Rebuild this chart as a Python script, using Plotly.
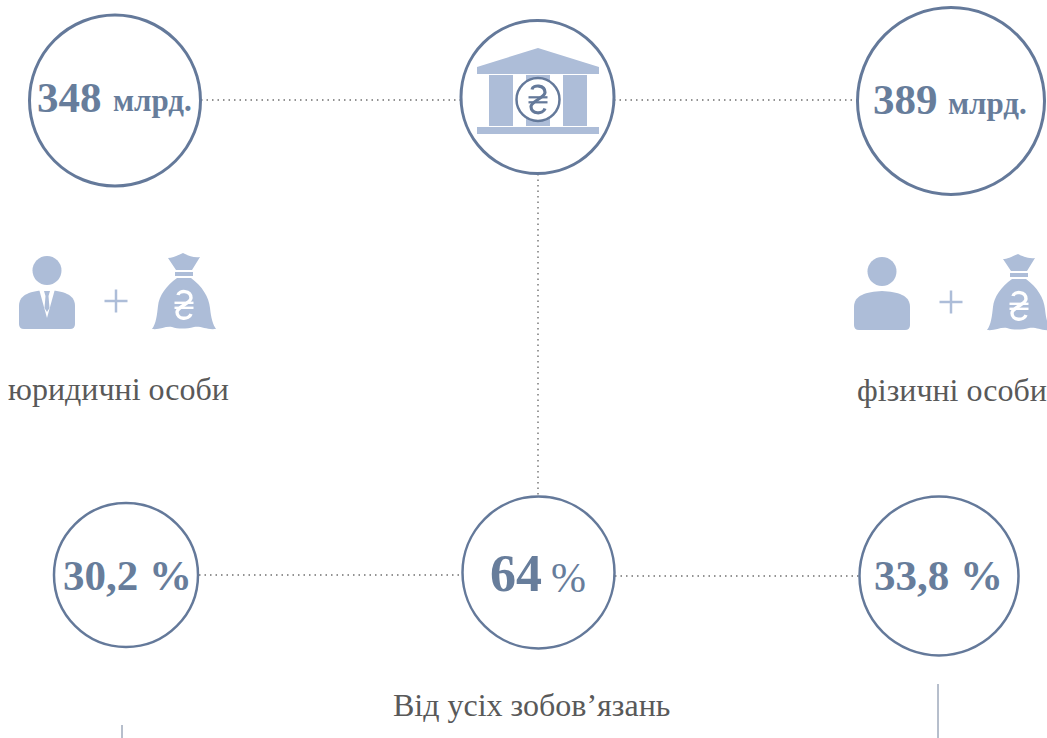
import plotly.graph_objects as go

# Labels
amounts = ["348", "389"]
unit = "млрд."
share_left = "30,2 %"
share_mid = "64"
share_right = "33,8 %"
captions = ["юридичні особи", "фізичні особи", "Від усіх зобов’язань"]

RING = "#64799a"
INK = "#677d9b"
ICON = "#adbdd8"
GREY = "#595959"
SERIF = "Liberation Serif"

shapes = []
annotations = []


def ring(cx, cy, r, w=3):
    shapes.append(dict(type="circle", x0=cx - r, x1=cx + r, y0=cy - r, y1=cy + r,
                       line=dict(color=RING, width=w), fillcolor="rgba(0,0,0,0)"))


def dotted(x0, y0, x1, y1):
    shapes.append(dict(type="line", x0=x0, y0=y0, x1=x1, y1=y1,
                       line=dict(color="#707070", width=1.4, dash="1.5px,4px")))


def rect(x0, y0, x1, y1, color=ICON):
    shapes.append(dict(type="rect", x0=x0, y0=y0, x1=x1, y1=y1,
                       fillcolor=color, line=dict(width=0)))


def fill_path(path, color=ICON):
    shapes.append(dict(type="path", path=path, fillcolor=color, line=dict(width=0)))


def text(x, y, s, size, color=INK, bold=False, anchor="left"):
    annotations.append(dict(x=x, y=y, text=f"<b>{s}</b>" if bold else s, showarrow=False,
                            xanchor=anchor, yanchor="middle",
                            font=dict(family=SERIF, size=size, color=color)))


def hryvnia(cx, cy, color, w):
    # the currency sign: one stroke for the curve plus two bars
    p = (f"M {cx-6},{cy-10} C {cx-5},{cy-15} {cx+7},{cy-15} {cx+7},{cy-7} "
         f"C {cx+7},{cy-2} {cx-7},{cy+2} {cx-7},{cy+7} "
         f"C {cx-7},{cy+15} {cx+5},{cy+15} {cx+7},{cy+9}")
    shapes.append(dict(type="path", path=p, line=dict(color=color, width=w)))
    for dy in (-2.2, 2.8):
        shapes.append(dict(type="line", x0=cx - 9.5, x1=cx + 9.5,
                           y0=cy + dy, y1=cy + dy, line=dict(color=color, width=w * 0.7)))


def bag(dx, dy):
    def x(v):
        return v + dx

    def y(v):
        return v + dy
    fill_path(f"M {x(168)},{y(258)} C {x(172)},{y(258)} {x(176)},{y(256)} {x(183)},{y(253)} "
              f"C {x(187)},{y(255)} {x(193)},{y(258)} {x(200)},{y(257)} "
              f"L {x(192)},{y(270)} L {x(176)},{y(270)} Z")
    rect(x(175), y(272), x(193), y(276))
    fill_path(f"M {x(177)},{y(278)} L {x(191)},{y(278)} "
              f"C {x(202)},{y(286)} {x(209)},{y(297)} {x(210)},{y(308)} "
              f"C {x(211)},{y(318)} {x(213)},{y(325)} {x(216)},{y(329)} "
              f"C {x(206)},{y(330)} {x(202)},{y(326)} {x(194)},{y(327)} "
              f"C {x(186)},{y(329)} {x(178)},{y(329)} {x(172)},{y(327)} "
              f"C {x(165)},{y(326)} {x(160)},{y(330)} {x(152)},{y(329)} "
              f"C {x(156)},{y(324)} {x(157)},{y(315)} {x(158)},{y(306)} "
              f"C {x(159)},{y(296)} {x(166)},{y(286)} {x(177)},{y(278)} Z")
    hryvnia(x(184), y(305), "white", 3.4)


def person(cx, top, suit):
    r = 14.5
    shapes.append(dict(type="circle", x0=cx - r, x1=cx + r, y0=top, y1=top + 2 * r,
                       fillcolor=ICON, line=dict(width=0)))
    b = top + 73
    fill_path(f"M {cx-28},{b-5} L {cx-28},{top+50} C {cx-28},{top+38} {cx-16},{top+35} {cx},{top+34} "
              f"C {cx+16},{top+35} {cx+28},{top+38} {cx+28},{top+50} L {cx+28},{b-5} "
              f"Q {cx+28},{b} {cx+23},{b} L {cx-23},{b} Q {cx-28},{b} {cx-28},{b-5} Z")
    if suit:
        # white shirt opening and the tie on it
        fill_path(f"M {cx-8},{top+33} L {cx+8},{top+33} L {cx},{top+62} Z", "white")
        fill_path(f"M {cx-3},{top+35} L {cx+3},{top+35} L {cx+1.5},{top+40} L {cx+2.5},{top+52} "
                  f"L {cx},{top+56} L {cx-2.5},{top+52} L {cx-1.5},{top+40} Z")


def plus(cx, cy):
    for a, b, c, d in ((cx - 11.5, cy, cx + 11.5, cy), (cx, cy - 11.5, cx, cy + 11.5)):
        shapes.append(dict(type="line", x0=a, y0=b, x1=c, y1=d, line=dict(color=ICON, width=2.5)))


# connectors
dotted(201, 100, 461, 100)
dotted(614, 100, 857, 100)
dotted(538, 174, 538, 495)
dotted(199, 575, 462, 575)
dotted(615, 576, 859, 576)

# rings
ring(115, 100.5, 85.5)
ring(537.5, 97, 76.5)
ring(951, 101, 93.5)
ring(126, 575, 72, 2.5)
ring(538.5, 572.5, 76, 2.5)
ring(939, 576, 79.5, 2.5)

# bank icon
fill_path("M 538,48 L 599,67 L 599,74 L 477,74 L 477,67 Z")
rect(489, 75, 513, 126)
rect(526, 75, 550, 126)
rect(563, 75, 587, 126)
rect(477, 127, 599, 134)
shapes.append(dict(type="circle", x0=516.5, x1=559.5, y0=78, y1=121,
                   fillcolor="white", line=dict(color=RING, width=2.5)))
hryvnia(538, 99.5, RING, 3.2)

# people and bags
person(47, 256, True)
plus(116, 301)
bag(0, 0)
person(882, 257, False)
plus(951, 302)
bag(835, 1)

# numbers
text(35, 97, amounts[0], 43, bold=True)
text(111, 100, unit, 31, bold=True)
text(871, 99, amounts[1], 43, bold=True)
text(946, 103, unit, 31, bold=True)
text(127, 575, share_left, 43, bold=True, anchor="center")
text(488, 573, share_mid, 52, bold=True)
text(549, 578, "%", 42)
text(938.5, 575, share_right, 43, bold=True, anchor="center")

# captions
text(118.5, 389, captions[0], 32, GREY, anchor="center")
text(952, 390, captions[1], 32, GREY, anchor="center")
text(531, 705, captions[2], 32, GREY, anchor="center")

# stray rules at the bottom edge
for x0, y0 in ((122, 725), (938, 684)):
    shapes.append(dict(type="line", x0=x0, x1=x0, y0=y0, y1=738,
                       line=dict(color="#6f7f99", width=1)))

fig = go.Figure()
fig.update_layout(
    width=1047, height=738, margin=dict(l=0, r=0, t=0, b=0),
    paper_bgcolor="white", plot_bgcolor="white", showlegend=False,
    xaxis=dict(range=[0, 1047], visible=False, fixedrange=True),
    yaxis=dict(range=[738, 0], visible=False, fixedrange=True),
    shapes=shapes, annotations=annotations,
)

fig.write_html("out.html", config={"displayModeBar": False},
               post_script="document.body.style.margin='0';document.body.style.overflow='hidden';")
